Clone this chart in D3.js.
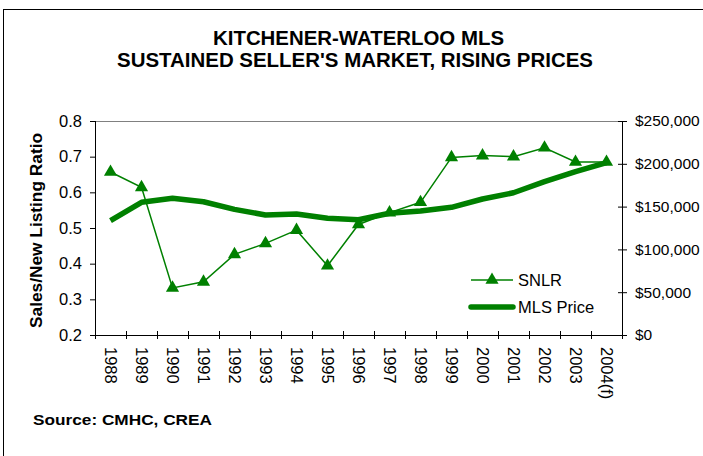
<!DOCTYPE html>
<html>
<head>
<meta charset="utf-8">
<script src="https://cdn.jsdelivr.net/npm/d3@7"></script>
<style>
  body { margin: 0; background: #fff; }
  svg { display: block; font-family: "Liberation Sans", Arial, sans-serif; }
</style>
</head>
<body>
<svg id="chart"></svg>
<script>
var years = ["1988","1989","1990","1991","1992","1993","1994","1995","1996",
             "1997","1998","1999","2000","2001","2002","2003","2004(f)"];
var snlr = [0.657, 0.614, 0.332, 0.349, 0.426, 0.457, 0.494, 0.394, 0.51,
            0.543, 0.572, 0.698, 0.703, 0.700, 0.725, 0.685, 0.685];
var mlsPrice = [133500, 155000, 159700, 155700, 146800, 140200, 141400, 136300, 134600,
                142200, 144900, 149200, 158900, 166200, 179100, 190800, 201300];
var leftTicks = [0.2, 0.3, 0.4, 0.5, 0.6, 0.7, 0.8];
var rightTicks = [0, 50000, 100000, 150000, 200000, 250000];

var W = 703, H = 456;
var margin = {top: 121, right: 81, bottom: 121, left: 95},
    width = W - margin.left - margin.right,
    height = H - margin.top - margin.bottom;

var svg = d3.select("#chart").attr("width", W).attr("height", H);

// outer frame
svg.append("rect")
  .attr("x", 3.5).attr("y", 9.5)
  .attr("width", W + 10).attr("height", H + 10)
  .attr("fill", "none").attr("stroke", "#000").attr("stroke-width", 1);

svg.append("text")
  .attr("x", 213).attr("y", 45)
  .attr("textLength", 291).attr("lengthAdjust", "spacingAndGlyphs")
  .style("font-size", "20px").style("font-weight", "bold")
  .text("KITCHENER-WATERLOO MLS");
svg.append("text")
  .attr("x", 117).attr("y", 67)
  .attr("textLength", 476).attr("lengthAdjust", "spacingAndGlyphs")
  .style("font-size", "20px").style("font-weight", "bold")
  .text("SUSTAINED SELLER'S MARKET, RISING PRICES");

var g = svg.append("g").attr("transform", "translate(" + margin.left + "," + margin.top + ")");

var x = d3.scaleBand().domain(years).range([0, width]).padding(0);
var y = d3.scaleLinear().domain([0.2, 0.8]).range([height, 0]);
var y2 = d3.scaleLinear().domain([0, 250000]).range([height, 0]);
var cx = function(i) { return x(years[i]) + x.bandwidth() / 2; };

// top border of plot area
g.append("line")
  .attr("x1", 0).attr("x2", width).attr("y1", 0.5).attr("y2", 0.5)
  .attr("stroke", "#808080");

// left axis
var yAxis = d3.axisLeft(y).tickValues(leftTicks).tickSize(5).tickPadding(8)
  .tickFormat(d3.format(".1f"));
var yG = g.append("g").call(yAxis);
yG.select(".domain").attr("d", "M0.5,0V" + height);
yG.selectAll("text").style("font-size", "16.5px").attr("fill", "#000");

// right axis (labels kept inside the 703px page)
var y2Axis = d3.axisRight(y2).tickValues(rightTicks).tickSize(5).tickPadding(8)
  .tickFormat(function(d) { return "$" + d3.format(",")(d); });
var y2G = g.append("g").attr("transform", "translate(" + width + ",0)").call(y2Axis);
y2G.select(".domain").attr("d", "M0.5,0V" + height);
y2G.selectAll(".tick line").attr("x1", -4);
y2G.selectAll("text").style("font-size", "15.5px").attr("fill", "#000");

// bottom axis: ticks at category edges, labels at centers
var xG = g.append("g").attr("transform", "translate(0," + height + ")");
xG.append("line").attr("x1", 0).attr("x2", width).attr("y1", 0.5).attr("y2", 0.5)
  .attr("stroke", "#000");
var edges = years.map(function(d) { return x(d); }).concat([width]);
xG.selectAll(".edge").data(edges).enter().append("line")
  .attr("class", "edge")
  .attr("x1", function(d) { return Math.round(d) + 0.5; })
  .attr("x2", function(d) { return Math.round(d) + 0.5; })
  .attr("y1", -4).attr("y2", 4)
  .attr("stroke", "#000");
xG.selectAll(".yl").data(years).enter().append("text")
  .attr("class", "yl")
  .attr("transform", function(d) {
    return "translate(" + (x(d) + x.bandwidth() / 2) + ",12) rotate(90)";
  })
  .attr("dy", "0.35em")
  .style("font-size", "16.5px")
  .text(function(d) { return d; });

// y label
svg.append("text")
  .attr("transform", "translate(42,230.5) rotate(-90)")
  .attr("text-anchor", "middle")
  .attr("textLength", 195).attr("lengthAdjust", "spacingAndGlyphs")
  .style("font-size", "16px").style("font-weight", "bold")
  .text("Sales/New Listing Ratio");

var green = "#008000";

// MLS price thick line
var priceLine = d3.line()
  .x(function(d, i) { return cx(i); })
  .y(function(d) { return y2(d); });
g.append("path")
  .datum(mlsPrice)
  .attr("fill", "none").attr("stroke", green)
  .attr("stroke-width", 5.5).attr("stroke-linejoin", "round")
  .attr("d", priceLine);

// SNLR line + triangles
var snlrLine = d3.line()
  .x(function(d, i) { return cx(i); })
  .y(function(d) { return y(d); });
g.append("path")
  .datum(snlr)
  .attr("fill", "none").attr("stroke", green)
  .attr("stroke-width", 1.5)
  .attr("d", snlrLine);

var tri = d3.symbol().type(d3.symbolTriangle).size(75);
g.selectAll(".tri").data(snlr).enter().append("path")
  .attr("class", "tri")
  .attr("transform", function(d, i) { return "translate(" + cx(i) + "," + y(d) + ")"; })
  .attr("d", tri)
  .attr("fill", green);

// legend
var leg = svg.append("g").attr("transform", "translate(471,280)");
leg.append("line").attr("x1", 0).attr("x2", 42).attr("y1", 0).attr("y2", 0)
  .attr("stroke", green).attr("stroke-width", 1.5);
leg.append("path").attr("transform", "translate(21,0)").attr("d", tri).attr("fill", green);
leg.append("text").attr("x", 47).attr("y", 0).attr("dy", "0.35em")
  .style("font-size", "16.5px").text("SNLR");
leg.append("line").attr("x1", 0).attr("x2", 42).attr("y1", 27).attr("y2", 27)
  .attr("stroke", green).attr("stroke-width", 5.5).attr("stroke-linecap", "round");
leg.append("text").attr("x", 47).attr("y", 27).attr("dy", "0.35em")
  .style("font-size", "16.5px").text("MLS Price");

// source
svg.append("text")
  .attr("x", 33).attr("y", 425)
  .attr("textLength", 179).attr("lengthAdjust", "spacingAndGlyphs")
  .style("font-size", "15px").style("font-weight", "bold")
  .text("Source: CMHC, CREA");
</script>
</body>
</html>
